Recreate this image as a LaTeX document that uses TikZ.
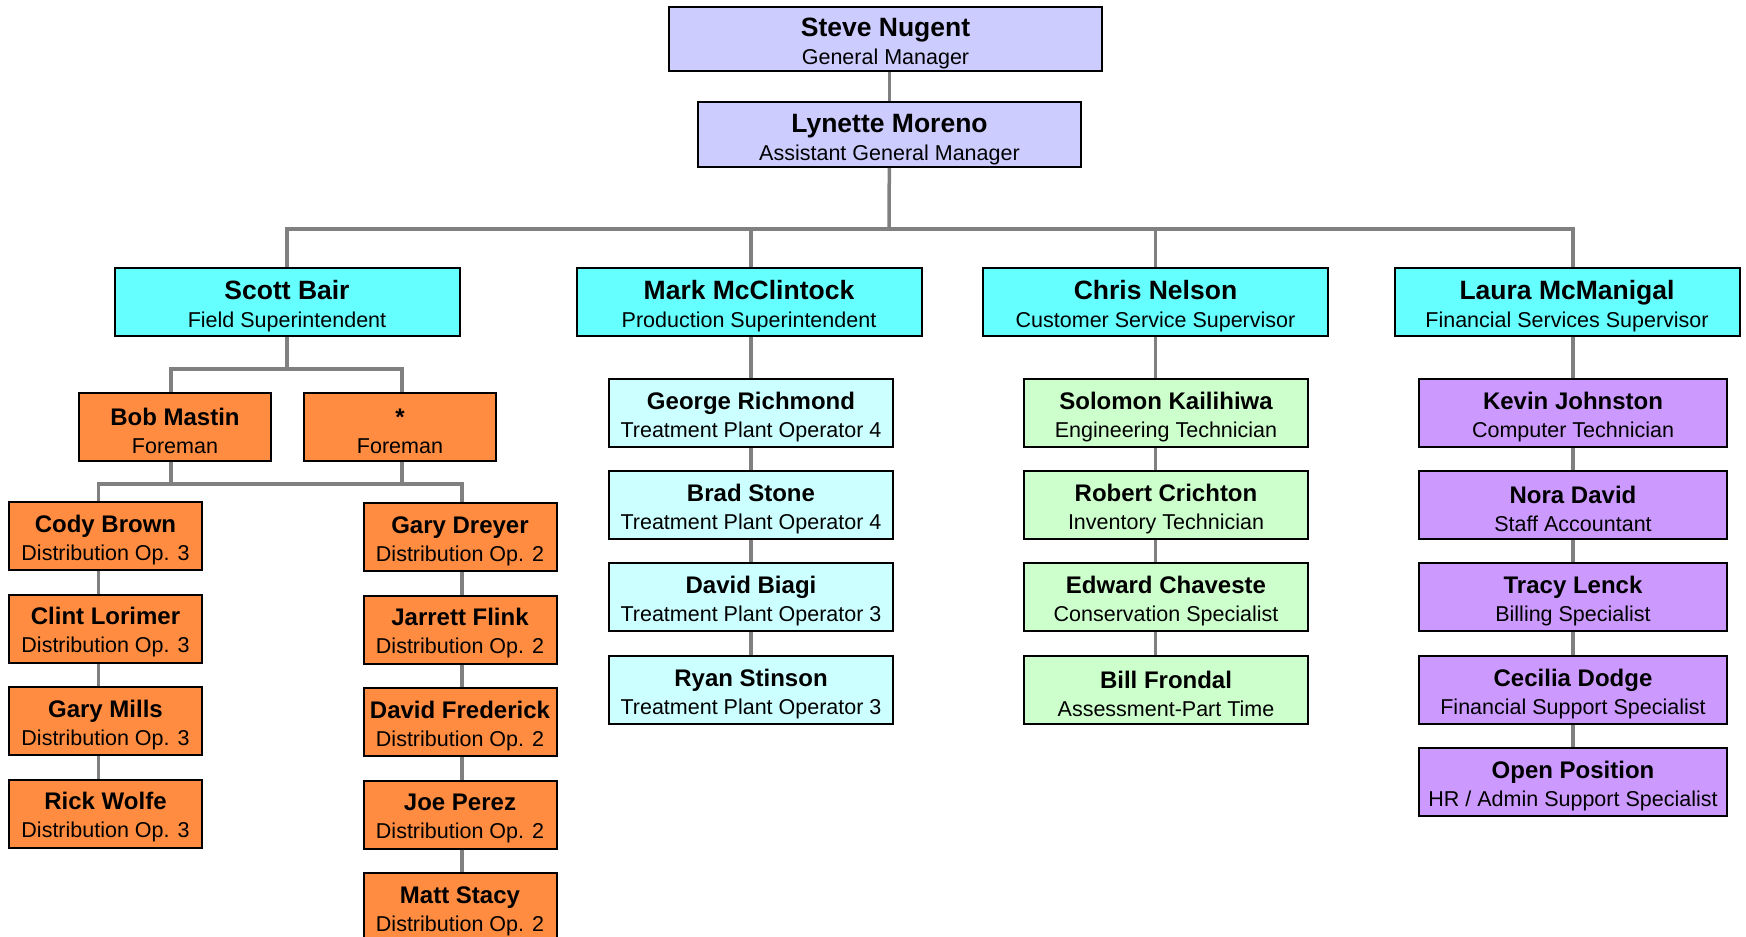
\documentclass[tikz,border=0pt]{standalone}
\usepackage{fontspec}
\setmainfont{Liberation Sans}

\definecolor{lavender}{HTML}{CCCCFF}
\definecolor{headcyan}{HTML}{66FFFF}
\definecolor{crewcyan}{HTML}{CCFFFF}
\definecolor{crewgreen}{HTML}{CCFFCC}
\definecolor{crewpurple}{HTML}{CC99FF}
\definecolor{creworange}{HTML}{FF8C40}
\definecolor{linegray}{HTML}{808080}

\newcommand{\bnm}[1]{\rule{0pt}{28pt}{\fontsize{26.5}{28}\selectfont\bfseries #1}}
\newcommand{\nm}[1]{\rule{0pt}{25pt}{\fontsize{24}{28}\selectfont\bfseries #1}}

\tikzset{
	box/.style={draw=black, line width=2pt, inner sep=0pt, minimum height=68pt, align=center, font=\fontsize{21.5}{28}\selectfont},
	gm/.style={box, fill=lavender, minimum height=64pt},
	super/.style={box, fill=headcyan, minimum width=345pt},
	field/.style={box, fill=creworange, minimum width=193pt},
	plant/.style={box, fill=crewcyan, minimum width=284pt},
	service/.style={box, fill=crewgreen, minimum width=284pt},
	finance/.style={box, fill=crewpurple, minimum width=308pt},
	link/.style={draw=linegray, line width=3.5pt},
}

\begin{document}
\begin{tikzpicture}[x=1pt,y=-1pt]
				\useasboundingbox (0,0) rectangle (1746,937);
				\node[gm, minimum width=433pt] (steve) at (885.5,39) {\bnm{Steve Nugent}\\General Manager};
				\node[gm, minimum width=383pt, minimum height=65pt] (lynette) at (889.5,134.5) {\bnm{Lynette Moreno}\\Assistant General Manager};
				\node[super] (scott) at (287,302) {\bnm{Scott Bair}\\Field Superintendent};
				\node[super] (mark) at (749,302) {\bnm{Mark McClintock}\\Production Superintendent};
				\node[super] (chris) at (1155.5,302) {\bnm{Chris Nelson}\\Customer Service Supervisor};
				\node[super] (laura) at (1567,302) {\bnm{Laura McManigal}\\Financial Services Supervisor};
				\coordinate (topbus) at (889,229);
				\coordinate (fieldbus) at (287,369);
				\coordinate (crewbus) at (287,484);
				% field crews
				\node[field, minimum width=192pt] (bob) at (175,427) {\nm{Bob Mastin}\\Foreman};
				\node[field, minimum width=192pt] (foreman) at (400,427) {\nm{*}\\Foreman};
				\node[field] (cody) at (105.5,536) {\nm{Cody Brown}\\Distribution Op. 3};
				\node[field] (clint) at (105.5,628.5) {\nm{Clint Lorimer}\\Distribution Op. 3};
				\node[field] (mills) at (105.5,721) {\nm{Gary Mills}\\Distribution Op. 3};
				\node[field] (rick) at (105.5,813.5) {\nm{Rick Wolfe}\\Distribution Op. 3};
				\node[field] (dreyer) at (460,537) {\nm{Gary Dreyer}\\Distribution Op. 2};
				\node[field] (jarrett) at (460,629.5) {\nm{Jarrett Flink}\\Distribution Op. 2};
				\node[field] (frederick) at (460,722) {\nm{David Frederick}\\Distribution Op. 2};
				\node[field] (joe) at (460,814.5) {\nm{Joe Perez}\\Distribution Op. 2};
				\node[field] (matt) at (460,907) {\nm{Matt Stacy}\\Distribution Op. 2};
				% plant, service and finance columns
				\node[plant] (george) at (751,413) {\nm{George Richmond}\\Treatment Plant Operator 4};
				\node[plant] (brad) at (751,505) {\nm{Brad Stone}\\Treatment Plant Operator 4};
				\node[plant] (biagi) at (751,597) {\nm{David Biagi}\\Treatment Plant Operator 3};
				\node[plant] (ryan) at (751,690) {\nm{Ryan Stinson}\\Treatment Plant Operator 3};
				\node[service] (solomon) at (1166,413) {\nm{Solomon Kailihiwa}\\Engineering Technician};
				\node[service] (robert) at (1166,505) {\nm{Robert Crichton}\\Inventory Technician};
				\node[service] (edward) at (1166,597) {\nm{Edward Chaveste}\\Conservation Specialist};
				\node[service] (bill) at (1166,690) {\nm{Bill Frondal}\\Assessment-Part Time};
				\node[finance] (kevin) at (1573,413) {\nm{Kevin Johnston}\\Computer Technician};
				\node[finance] (nora) at (1573,505) {\nm{Nora David}\\Staff Accountant};
				\node[finance] (tracy) at (1573,597) {\nm{Tracy Lenck}\\Billing Specialist};
				\node[finance] (cecilia) at (1573,690) {\nm{Cecilia Dodge}\\Financial Support Specialist};
				\node[finance] (open) at (1573,782) {\nm{Open Position}\\HR / Admin Support Specialist};
				% links
				\draw[link] (lynette.north) -- (lynette.north |- steve.south);
				\draw[link] (lynette) -- (topbus);
				\draw[link] (scott.north) |- (topbus) -| (laura.north -| kevin);
				\draw[link] (mark.north -| george) -- (topbus -| george);
				\draw[link] (chris.north) -- (chris.north |- topbus);
				\draw[link] (scott.south) -- (fieldbus);
				\draw[link] ([xshift=-4pt]bob.north) |- (fieldbus) -| ([xshift=2pt]foreman.north);
				\draw[link] ([xshift=-7pt]cody.north) |- (crewbus) -| ([xshift=2pt]dreyer.north);
				\draw[link] ([xshift=-4pt]bob.south) -- ([xshift=-4pt]bob.south |- crewbus);
				\draw[link] ([xshift=2pt]foreman.south) -- ([xshift=2pt]foreman.south |- crewbus);
				\draw[link] ([xshift=-7pt]cody.south) -- ([xshift=-7pt]clint.north);
				\draw[link] ([xshift=-7pt]clint.south) -- ([xshift=-7pt]mills.north);
				\draw[link] ([xshift=-7pt]mills.south) -- ([xshift=-7pt]rick.north);
				\draw[link] ([xshift=2pt]dreyer.south) -- ([xshift=2pt]jarrett.north);
				\draw[link] ([xshift=2pt]jarrett.south) -- ([xshift=2pt]frederick.north);
				\draw[link] ([xshift=2pt]frederick.south) -- ([xshift=2pt]joe.north);
				\draw[link] ([xshift=2pt]joe.south) -- ([xshift=2pt]matt.north);
				\draw[link] (mark.south -| george) -- (george);
				\draw[link] (george) -- (brad);
				\draw[link] (brad) -- (biagi);
				\draw[link] (biagi) -- (ryan);
				\draw[link] (chris.south) -- (chris.south |- solomon.north);
				\draw[link] (solomon.south -| chris) -- (robert.north -| chris);
				\draw[link] (robert.south -| chris) -- (edward.north -| chris);
				\draw[link] (edward.south -| chris) -- (bill.north -| chris);
				\draw[link] (laura.south -| kevin) -- (kevin);
				\draw[link] (kevin) -- (nora);
				\draw[link] (nora) -- (tracy);
				\draw[link] (tracy) -- (cecilia);
				\draw[link] (cecilia) -- (open);
			\end{tikzpicture}
\end{document}
